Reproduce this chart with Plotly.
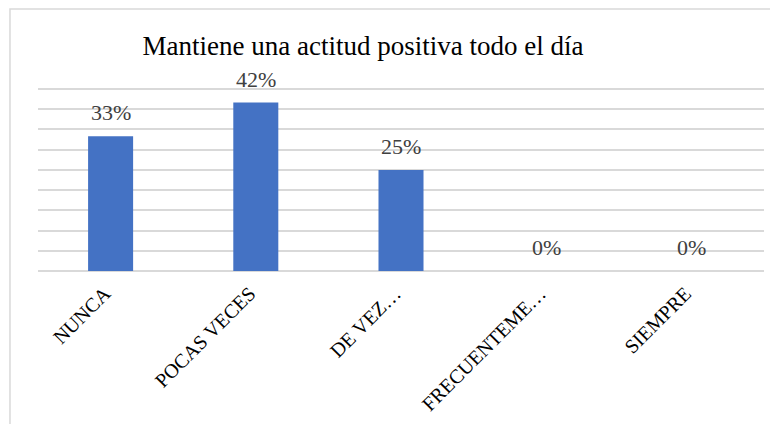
import plotly.graph_objects as go

categories = ["NUNCA", "POCAS VECES", "DE VEZ…", "FRECUENTEME…", "SIEMPRE"]
shares = [4 / 12, 5 / 12, 3 / 12, 0, 0]
labels = ["33%", "42%", "25%", "0%", "0%"]

BAR_BLUE = "#4472C4"
GRID = "#d9d9d9"
SERIF = "Liberation Serif"

fig = go.Figure()

fig.add_trace(
    go.Bar(
        x=categories,
        y=shares,
        marker=dict(color=BAR_BLUE, line=dict(width=0)),
        hoverinfo="skip",
        showlegend=False,
    )
)

# data labels above each bar
for cat, val, lab in zip(categories, shares, labels):
    fig.add_annotation(
        x=cat,
        y=val,
        text=lab,
        showarrow=False,
        yanchor="bottom",
        yshift=9,
        font=dict(family=SERIF, size=22, color="#404040"),
    )

# chart frame (only top and left edges fall inside the picture)
fig.add_shape(
    type="rect",
    xref="paper",
    yref="paper",
    x0=-0.0386,
    x1=1.2,
    y0=-1.2,
    y1=1.424,
    line=dict(color=GRID, width=1.5),
    fillcolor="rgba(0,0,0,0)",
    layer="below",
)

# page body adds 8px, so the figure is laid out 8px up/left
fig.update_layout(
    width=770,
    height=416,
    margin=dict(l=30, r=14, t=79, b=153),
    paper_bgcolor="white",
    plot_bgcolor="white",
    bargap=0.69,
    title=dict(
        text="Mantiene una actitud positiva todo el día",
        x=355 / 770,
        xref="container",
        xanchor="center",
        y=1 - 38 / 416,
        yref="container",
        yanchor="middle",
        font=dict(family=SERIF, size=27, color="#000000"),
    ),
)

fig.update_xaxes(
    tickangle=-45,
    tickfont=dict(family=SERIF, size=20, color="#000000"),
    showgrid=False,
    showline=False,
    ticks="",
    ticklabelstandoff=6,
    ticklabelshift=-6,
    automargin=False,
)

fig.update_yaxes(
    range=[0, 0.455],
    dtick=0.05,
    showticklabels=False,
    showgrid=True,
    gridcolor=GRID,
    gridwidth=1.5,
    zeroline=True,
    zerolinecolor=GRID,
    zerolinewidth=1.5,
)

fig.write_html("out.html")
